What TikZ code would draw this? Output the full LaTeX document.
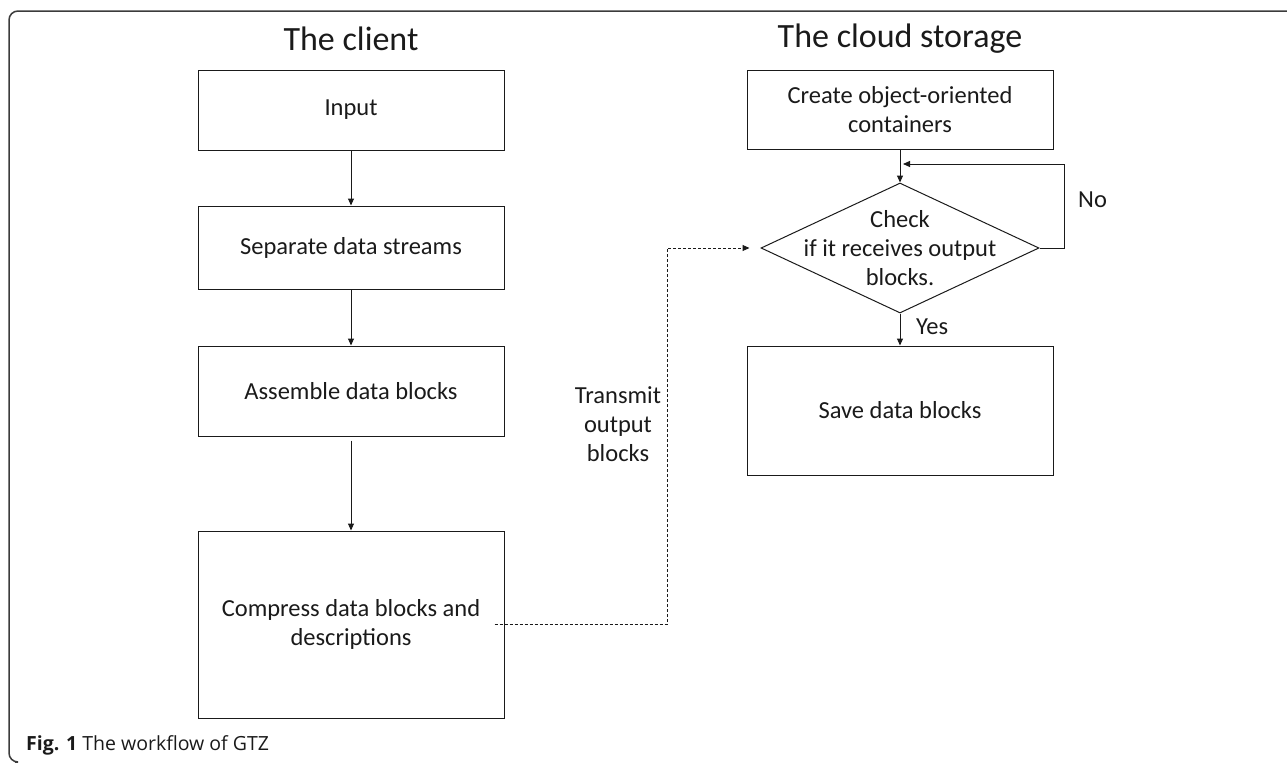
\documentclass[tikz,border=0pt]{standalone}
\usepackage{fontspec}
\setmainfont{Carlito}
\newfontfamily\capfont{Open Sans}
\usetikzlibrary{arrows.meta,shapes.geometric,calc}
\definecolor{ink}{HTML}{1A1A1A}
\begin{document}
\begin{tikzpicture}[x=1pt,y=-1pt,
  box/.style={draw=ink,line width=1pt,rectangle,minimum width=306pt,inner sep=0pt,
    align=center,font=\fontsize{24.5}{29}\selectfont,text=ink},
  ttl/.style={font=\fontsize{34}{40}\selectfont,text=ink},
  lbl/.style={font=\fontsize{24.5}{29}\selectfont,text=ink,align=center,inner sep=0pt},
  arr/.style={draw=ink,line width=1pt,-{Triangle[length=7pt,width=6pt]}},
  darr/.style={draw=ink,line width=1pt,dash pattern=on 3pt off 2pt,-{Triangle[length=7pt,width=6pt]}},
]
\useasboundingbox (0,0) rectangle (1287,763);
% frame
\draw[draw=ink!85,line width=1.5pt,rounded corners=9pt] (1287,11) -- (9,11) -- (9,762) -- (15,762);
% titles
\node[ttl] (tclient) at (351,39) {The client};
\node[ttl] (tcloud) at (900,39) {The cloud storage};
% client boxes
\node[box,minimum height=80pt] (input) at (351,110) {Input};
\node[box,minimum height=83pt] (sep) at (351,247.5) {Separate data streams};
\node[box,minimum height=90pt] (asm) at (351,391) {Assemble data blocks};
\node[box,minimum height=187pt] (cmp) at (351,624.5) {Compress data blocks and\\descriptions};
% cloud boxes
\node[box,minimum height=79pt] (create) at (900,109.5) {Create object-oriented\\containers};
\node[draw=ink,line width=1pt,diamond,minimum width=278pt,minimum height=130pt,inner sep=0pt] (check) at (900,248) {};
\node[lbl] (checktxt) at (check.center) {Check\\if it receives output\\blocks.};
\node[box,minimum height=129pt] (save) at (900,410.5) {Save data blocks};
% arrows
\draw[arr] (input.south) -- (sep.north);
\draw[arr] (sep.south) -- (asm.north);
\draw[arr] ([yshift=-4pt]asm.south) -- (cmp.north);
\draw[arr] (create.south) -- (check.north);
\draw[arr] (check.south) -- (save.north);
\coordinate (loopc) at (1064,164);
\draw[arr] (check.east) -| (loopc) -- ([xshift=3pt]loopc -| create.south);
\coordinate (dashc) at (667,624.5);
\draw[darr,shorten >=11pt] ([xshift=-10pt]cmp.east) -- (dashc) |- (check.west);
% labels
\node[lbl,anchor=west] (no) at (1078,200) {No};
\node[lbl,anchor=west] (yes) at (916,327) {Yes};
\node[lbl] (transmit) at (618,424) {Transmit\\output\\blocks};
% caption
\node[anchor=west,inner sep=0pt,text=ink,font=\capfont\fontsize{19.5}{23}\selectfont] (cap) at (26,745) {\textbf{Fig. 1} The workflow of GTZ};
\end{tikzpicture}
\end{document}
